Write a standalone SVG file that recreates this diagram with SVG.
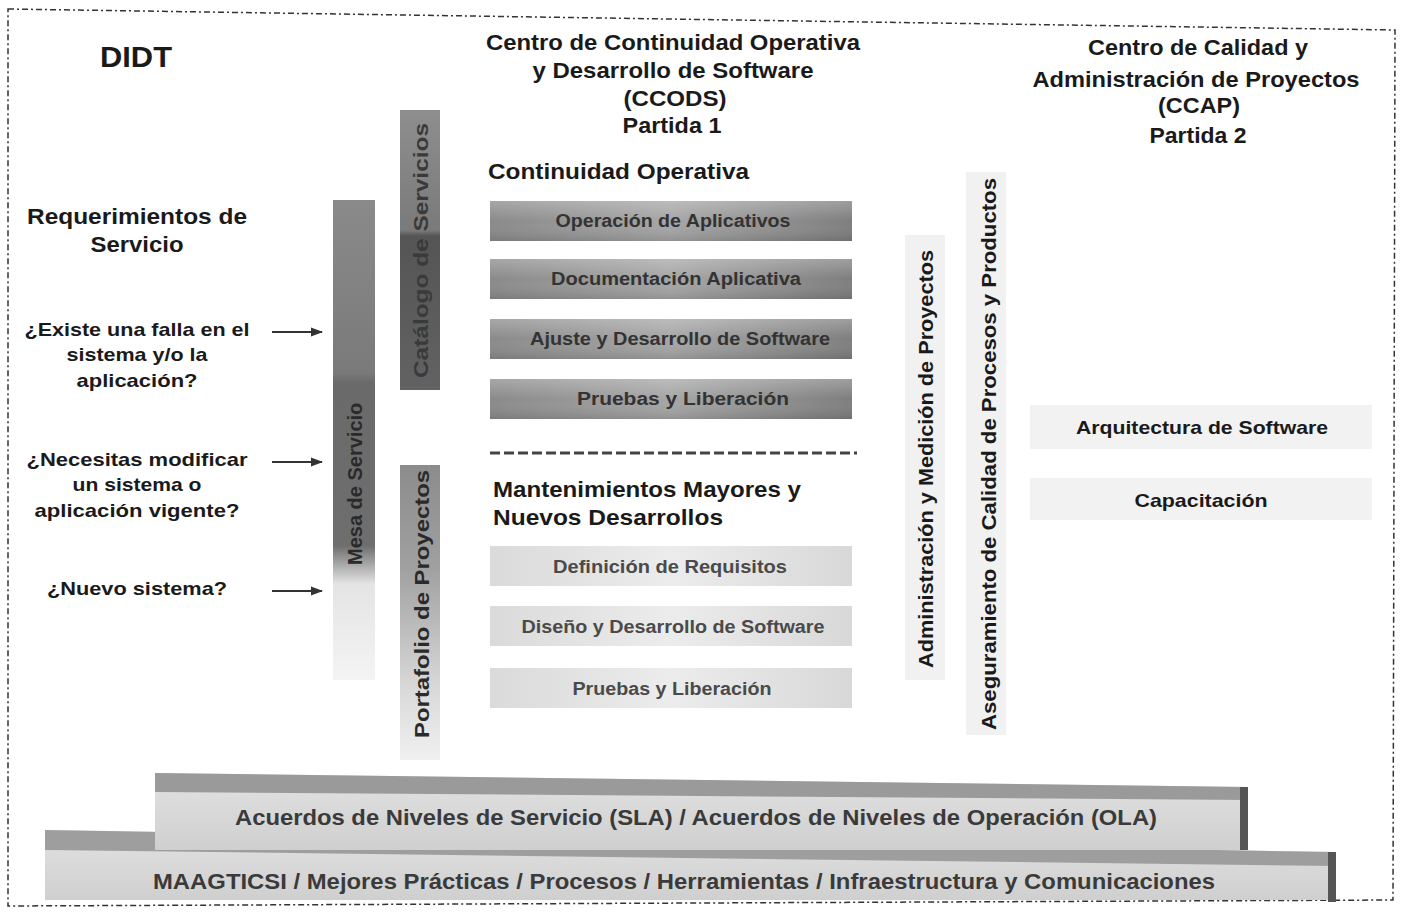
<svg xmlns="http://www.w3.org/2000/svg" width="1403" height="923" viewBox="0 0 1403 923">
<style>
text{font-family:"Liberation Sans",Arial,sans-serif;font-weight:bold;}
.h{font-size:22px;fill:#1a1a1a;text-anchor:middle;}
.q{font-size:19px;fill:#1a1a1a;text-anchor:middle;}
.sec{font-size:22px;fill:#1a1a1a;}
.bt{font-size:18px;fill:#333;text-anchor:middle;}
.lt{font-size:18px;fill:#4a4a4a;text-anchor:middle;}
.vt{font-size:20px;fill:#2a2a2a;}
.rt{font-size:19px;fill:#1a1a1a;text-anchor:middle;}
.base{font-size:22px;fill:#3a3a3a;text-anchor:middle;}
.arrow{stroke:#333;stroke-width:2;fill:none;marker-end:url(#ah);}
</style>
<defs>
<marker id="ah" markerWidth="12" markerHeight="10" refX="11" refY="5" orient="auto" markerUnits="userSpaceOnUse">
<path d="M0,0.5 L12,5 L0,9.5 z" fill="#333"/>
</marker>
<linearGradient id="gBar" x1="0" y1="0" x2="1" y2="0">
<stop offset="0" stop-color="#8a8a8a"/><stop offset="0.5" stop-color="#a6a6a6"/><stop offset="1" stop-color="#7e7e7e"/>
</linearGradient>
<linearGradient id="gBarV" x1="0" y1="0" x2="0" y2="1">
<stop offset="0" stop-color="#ffffff" stop-opacity="0.25"/><stop offset="0.5" stop-color="#ffffff" stop-opacity="0"/><stop offset="1" stop-color="#000000" stop-opacity="0.12"/>
</linearGradient>
<linearGradient id="gLight" x1="0" y1="0" x2="1" y2="0">
<stop offset="0" stop-color="#dadada"/><stop offset="0.5" stop-color="#ececec"/><stop offset="1" stop-color="#d8d8d8"/>
</linearGradient>
<linearGradient id="gA" x1="0" y1="0" x2="0" y2="1">
<stop offset="0" stop-color="#8a8a8a"/><stop offset="0.36" stop-color="#7a7a7a"/><stop offset="0.38" stop-color="#6a6a6a"/><stop offset="0.72" stop-color="#6e6e6e"/><stop offset="0.8" stop-color="#e4e4e4"/><stop offset="1" stop-color="#f4f4f4"/>
</linearGradient>
<linearGradient id="gB" x1="0" y1="0" x2="0" y2="1">
<stop offset="0" stop-color="#8e8e8e"/><stop offset="0.43" stop-color="#7a7a7a"/><stop offset="0.45" stop-color="#555"/><stop offset="1" stop-color="#626262"/>
</linearGradient>
<linearGradient id="gC" x1="0" y1="0" x2="0" y2="1">
<stop offset="0" stop-color="#8c8c8c"/><stop offset="0.35" stop-color="#a0a0a0"/><stop offset="0.75" stop-color="#d8d8d8"/><stop offset="1" stop-color="#f0f0f0"/>
</linearGradient>
<linearGradient id="gFront" x1="0" y1="0" x2="0" y2="1">
<stop offset="0" stop-color="#e2e2e2"/><stop offset="1" stop-color="#cfcfcf"/>
</linearGradient>
</defs>
<rect width="1403" height="923" fill="#ffffff"/>
<g id="frame">
<path d="M8,9 L1395,30 L1393,900 L8,906 Z" fill="none" stroke="#333" stroke-width="1.5" stroke-dasharray="6,3,2,3"/>
</g>
<g id="didt"><text x="136" y="67" class="h" style="font-size:30px" textLength="72" lengthAdjust="spacingAndGlyphs">DIDT</text></g>
<g id="requerimientos">
<text x="137" y="224" class="h" textLength="220" lengthAdjust="spacingAndGlyphs">Requerimientos de</text>
<text x="137" y="252" class="h" textLength="93" lengthAdjust="spacingAndGlyphs">Servicio</text>
</g>
<g id="q1"><text x="137" y="336" class="q" textLength="225" lengthAdjust="spacingAndGlyphs">¿Existe una falla en el</text><text x="137" y="361" class="q" textLength="141" lengthAdjust="spacingAndGlyphs">sistema y/o la</text><text x="137" y="387" class="q" textLength="121" lengthAdjust="spacingAndGlyphs">aplicación?</text></g>
<g id="q2"><text x="137" y="466" class="q" textLength="221" lengthAdjust="spacingAndGlyphs">¿Necesitas modificar</text><text x="137" y="491" class="q" textLength="129" lengthAdjust="spacingAndGlyphs">un sistema o</text><text x="137" y="517" class="q" textLength="205" lengthAdjust="spacingAndGlyphs">aplicación vigente?</text></g>
<g id="q3"><text x="137" y="595" class="q" textLength="180" lengthAdjust="spacingAndGlyphs">¿Nuevo sistema?</text></g>
<g id="ccods-title">
<text x="673" y="50" class="h" textLength="374" lengthAdjust="spacingAndGlyphs">Centro de Continuidad Operativa</text>
<text x="673" y="78" class="h" textLength="281" lengthAdjust="spacingAndGlyphs">y Desarrollo de Software</text>
<text x="675" y="106" class="h" textLength="103" lengthAdjust="spacingAndGlyphs">(CCODS)</text>
<text x="672" y="133" class="h" textLength="99" lengthAdjust="spacingAndGlyphs">Partida 1</text>
</g>
<g id="ccap-title">
<text x="1198" y="55" class="h" textLength="220" lengthAdjust="spacingAndGlyphs">Centro de Calidad y</text>
<text x="1196" y="87" class="h" textLength="327" lengthAdjust="spacingAndGlyphs">Administración de Proyectos</text>
<text x="1199" y="113" class="h" textLength="82" lengthAdjust="spacingAndGlyphs">(CCAP)</text>
<text x="1198" y="143" class="h" textLength="97" lengthAdjust="spacingAndGlyphs">Partida 2</text>
</g>
<g id="mesa-servicio">
<rect x="333" y="200" width="42" height="480" fill="url(#gA)"/>
<text class="vt" transform="translate(362,565) rotate(-90)">Mesa de Servicio</text>
</g>
<g id="catalogo">
<rect x="400" y="110" width="40" height="280" fill="url(#gB)"/>
<text class="vt" style="fill:#3a3a3a" transform="translate(428,378) rotate(-90)" textLength="255" lengthAdjust="spacingAndGlyphs">Catálogo de Servicios</text>
</g>
<g id="portafolio">
<rect x="400" y="465" width="40" height="295" fill="url(#gC)"/>
<text class="vt" style="font-size:21px" transform="translate(429,738) rotate(-90)" textLength="268" lengthAdjust="spacingAndGlyphs">Portafolio de Proyectos</text>
</g>
<g id="continuidad-operativa">
<text x="488" y="179" class="sec" textLength="261" lengthAdjust="spacingAndGlyphs">Continuidad Operativa</text>
</g>
<g id="co1"><rect x="490" y="201" width="362" height="40" fill="url(#gBar)"/><rect x="490" y="201" width="362" height="40" fill="url(#gBarV)"/><text x="673" y="227" class="bt" textLength="235" lengthAdjust="spacingAndGlyphs">Operación de Aplicativos</text></g>
<g id="co2"><rect x="490" y="259" width="362" height="40" fill="url(#gBar)"/><rect x="490" y="259" width="362" height="40" fill="url(#gBarV)"/><text x="676" y="285" class="bt" textLength="250" lengthAdjust="spacingAndGlyphs">Documentación Aplicativa</text></g>
<g id="co3"><rect x="490" y="319" width="362" height="40" fill="url(#gBar)"/><rect x="490" y="319" width="362" height="40" fill="url(#gBarV)"/><text x="680" y="345" class="bt" textLength="300" lengthAdjust="spacingAndGlyphs">Ajuste y Desarrollo de Software</text></g>
<g id="co4"><rect x="490" y="379" width="362" height="40" fill="url(#gBar)"/><rect x="490" y="379" width="362" height="40" fill="url(#gBarV)"/><text x="683" y="405" class="bt" textLength="212" lengthAdjust="spacingAndGlyphs">Pruebas y Liberación</text></g>
<g id="divider"><line x1="490" y1="453" x2="857" y2="453" stroke="#444" stroke-width="3" stroke-dasharray="10,4"/></g>
<g id="mantenimientos">
<text x="493" y="497" class="sec" textLength="308" lengthAdjust="spacingAndGlyphs">Mantenimientos Mayores y</text>
<text x="493" y="525" class="sec" textLength="230" lengthAdjust="spacingAndGlyphs">Nuevos Desarrollos</text>
</g>
<g id="md1"><rect x="490" y="546" width="362" height="40" fill="url(#gLight)"/><text x="670" y="573" class="lt" textLength="234" lengthAdjust="spacingAndGlyphs">Definición de Requisitos</text></g>
<g id="md2"><rect x="490" y="606" width="362" height="40" fill="url(#gLight)"/><text x="673" y="633" class="lt" textLength="303" lengthAdjust="spacingAndGlyphs">Diseño y Desarrollo de Software</text></g>
<g id="md3"><rect x="490" y="668" width="362" height="40" fill="url(#gLight)"/><text x="672" y="695" class="lt" textLength="199" lengthAdjust="spacingAndGlyphs">Pruebas y Liberación</text></g>
<g id="admin-medicion">
<rect x="905" y="235" width="40" height="445" fill="#f1f1f1"/>
<text class="vt" style="fill:#1a1a1a" transform="translate(933,668) rotate(-90)" textLength="418" lengthAdjust="spacingAndGlyphs">Administración y Medición de Proyectos</text>
</g>
<g id="aseguramiento">
<rect x="966" y="172" width="40" height="563" fill="#f1f1f1"/>
<text class="vt" style="fill:#1a1a1a" transform="translate(996,730) rotate(-90)" textLength="552" lengthAdjust="spacingAndGlyphs">Aseguramiento de Calidad de Procesos y Productos</text>
</g>
<g id="arquitectura">
<rect x="1030" y="405" width="342" height="44" fill="#f2f2f2"/>
<text x="1202" y="434" class="rt" textLength="252" lengthAdjust="spacingAndGlyphs">Arquitectura de Software</text>
</g>
<g id="capacitacion">
<rect x="1030" y="478" width="342" height="42" fill="#f2f2f2"/>
<text x="1201" y="507" class="rt" textLength="133" lengthAdjust="spacingAndGlyphs">Capacitación</text>
</g>
<g id="maagticsi">
<path d="M45,830 L1335,852 L1335,900 L45,900 Z" fill="url(#gFront)"/>
<path d="M45,830 L1335,852 L1335,866 L45,850 Z" fill="#9e9e9e"/>
<rect x="1328" y="852" width="8" height="50" fill="#555"/>
<text x="684" y="889" class="base" textLength="1062" lengthAdjust="spacingAndGlyphs">MAAGTICSI / Mejores Prácticas / Procesos / Herramientas / Infraestructura y Comunicaciones</text>
</g>
<g id="sla-ola">
<path d="M155,773 L1248,787 L1248,850 L155,850 Z" fill="url(#gFront)"/>
<path d="M155,773 L1248,787 L1248,800 L155,792 Z" fill="#9a9a9a"/>
<rect x="1240" y="787" width="8" height="63" fill="#555"/>
<text x="696" y="825" class="base" textLength="922" lengthAdjust="spacingAndGlyphs">Acuerdos de Niveles de Servicio (SLA) / Acuerdos de Niveles de Operación (OLA)</text>
</g>
<g id="connectors">
<line x1="272" y1="332" x2="322" y2="332" class="arrow"/>
<line x1="272" y1="462" x2="322" y2="462" class="arrow"/>
<line x1="272" y1="591" x2="322" y2="591" class="arrow"/>
</g>
</svg>
